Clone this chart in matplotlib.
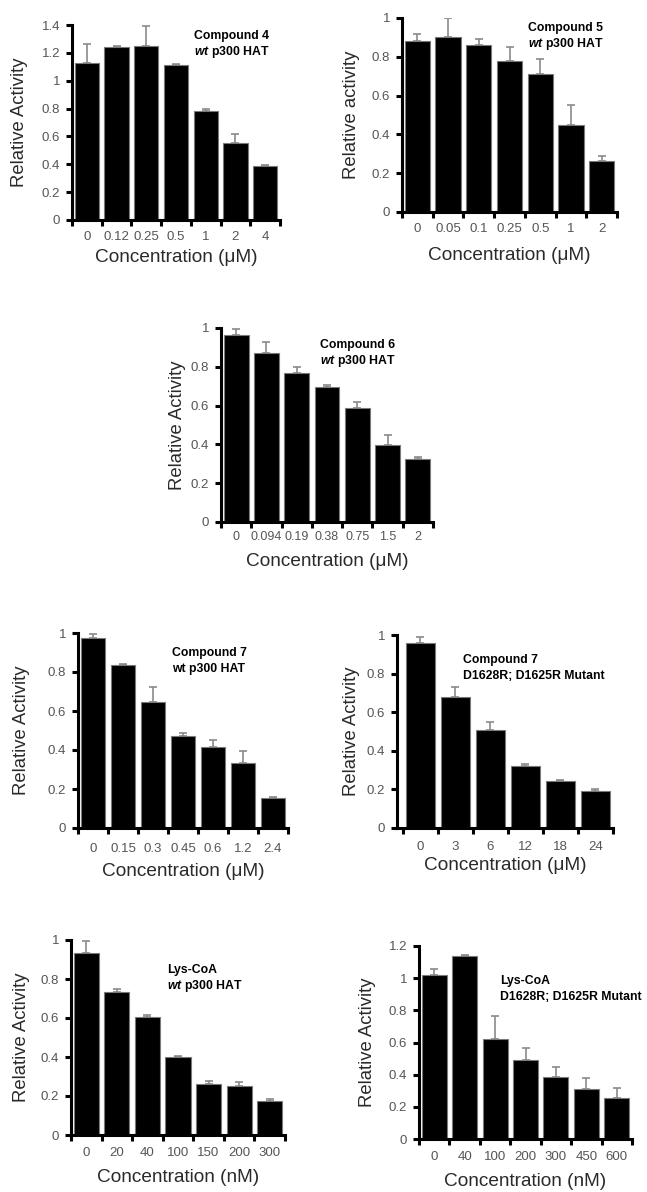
import numpy as np
import matplotlib
matplotlib.use('Agg')
import matplotlib.pyplot as plt

plt.rcParams['font.family'] = ['Liberation Sans', 'DejaVu Sans']
plt.rcParams['mathtext.fontset'] = 'custom'
plt.rcParams['mathtext.it'] = 'Liberation Sans:italic:bold'
plt.rcParams['mathtext.rm'] = 'Liberation Sans:bold'
plt.rcParams['mathtext.bf'] = 'Liberation Sans:bold'

# ---------------- data ----------------
c4_conc = ['0', '0.12', '0.25', '0.5', '1', '2', '4']
c4_act = [1.13, 1.24, 1.25, 1.11, 0.78, 0.555, 0.385]
c4_err = [0.135, 0.01, 0.14, 0.01, 0.018, 0.06, 0.008]

c5_conc = ['0', '0.05', '0.1', '0.25', '0.5', '1', '2']
c5_act = [0.88, 0.90, 0.86, 0.78, 0.71, 0.45, 0.265]
c5_err = [0.04, 0.10, 0.03, 0.07, 0.08, 0.10, 0.022]

c6_conc = ['0', '0.094', '0.19', '0.38', '0.75', '1.5', '2']
c6_act = [0.966, 0.871, 0.768, 0.696, 0.589, 0.399, 0.326]
c6_err = [0.03, 0.057, 0.031, 0.008, 0.03, 0.049, 0.009]

c7wt_conc = ['0', '0.15', '0.3', '0.45', '0.6', '1.2', '2.4']
c7wt_act = [0.974, 0.836, 0.646, 0.47, 0.414, 0.333, 0.152]
c7wt_err = [0.023, 0.004, 0.075, 0.017, 0.036, 0.064, 0.005]

c7mut_conc = ['0', '3', '6', '12', '18', '24']
c7mut_act = [0.957, 0.681, 0.509, 0.322, 0.241, 0.193]
c7mut_err = [0.035, 0.048, 0.04, 0.011, 0.009, 0.009]

lyswt_conc = ['0', '20', '40', '100', '150', '200', '300']
lyswt_act = [0.935, 0.735, 0.603, 0.398, 0.26, 0.251, 0.174]
lyswt_err = [0.06, 0.015, 0.011, 0.005, 0.015, 0.023, 0.012]

lysmut_conc = ['0', '40', '100', '200', '300', '450', '600']
lysmut_act = [1.02, 1.138, 0.623, 0.492, 0.383, 0.31, 0.252]
lysmut_err = [0.035, 0.006, 0.143, 0.073, 0.062, 0.069, 0.065]

W, H = 647, 1192
fig = plt.figure(figsize=(W / 100, H / 100), dpi=100)

TICKC = '#555555'
LABC = '#2a2a2a'


def panel(left, right, top, bottom, ext, labels, vals, errs, ymax, ylabel,
          unit, line1, line2, annx, anny, ylab_x, xlab_y, tick_off, tsize=9.5):
    ax = fig.add_axes([left / W, 1 - bottom / H, (right - left) / W, (bottom - top) / H])
    n = len(vals)
    x = np.arange(n)
    ax.bar(x, vals, width=0.82, color='black', edgecolor='#7a7a7a',
           linewidth=0.8, zorder=2)
    ax.errorbar(x, vals, yerr=[np.zeros(n), errs], fmt='none', ecolor='#8a8a8a',
                elinewidth=1.2, capsize=3.2, capthick=1.2, zorder=1)
    ax.set_xlim(-0.5 - ext, n - 0.5)
    ax.set_ylim(0, ymax)
    for s in ('top', 'right'):
        ax.spines[s].set_visible(False)
    for s in ('left', 'bottom'):
        ax.spines[s].set_linewidth(2.2)
    yt = np.round(np.arange(0, ymax + 1e-6, 0.2), 1)
    ax.set_yticks(yt)
    ax.set_yticklabels([f'{v:g}' for v in yt])
    ax.tick_params(axis='y', direction='out', length=4.5, width=2.2,
                   labelsize=9.5, labelcolor=TICKC, pad=4)
    ax.set_xticks(x)
    ax.set_xticklabels(labels)
    ax.set_xticks(np.arange(n + 1) - 0.5, minor=True)
    ax.tick_params(axis='x', which='major', length=0, labelsize=tsize,
                   labelcolor=TICKC, pad=(tick_off - 6.5) * 0.72)
    ax.tick_params(axis='x', which='minor', direction='out', length=4.5, width=2.2)
    fig.text(ylab_x / W, 1 - (top + bottom) / 2 / H, ylabel, rotation=90,
             ha='center', va='center', fontsize=13.3, color=LABC)
    fig.text((left + right) / 2 / W, 1 - xlab_y / H, f'Concentration ({unit})',
             ha='center', va='center', fontsize=13.7, color=LABC)
    fig.text(annx / W, 1 - anny / H, line1, ha='left', va='center',
             fontsize=8.8, fontweight='bold', color='black')
    fig.text(annx / W, 1 - (anny + 16) / H, line2, ha='left', va='center',
             fontsize=8.8, fontweight='bold', color='black')
    return ax


WT_IT = r'$\mathit{wt}$ p300 HAT'

panel(72, 280, 25, 220, 0.0, c4_conc, c4_act, c4_err, 1.4, 'Relative Activity',
      'μM', 'Compound 4', WT_IT, 194, 36, 20, 257, 17)
panel(402, 617, 18, 212, 0.0, c5_conc, c5_act, c5_err, 1.0, 'Relative activity',
      'μM', 'Compound 5', WT_IT, 528, 28, 352, 255, 18)
panel(221, 433, 328, 522, 0.0, c6_conc, c6_act, c6_err, 1.0, 'Relative Activity',
      'μM', 'Compound 6', WT_IT, 320, 345, 177, 562, 16, tsize=9.0)
panel(78, 288, 633, 828, 0.0, c7wt_conc, c7wt_act, c7wt_err, 1.0, 'Relative Activity',
      'μM', 'Compound 7', 'wt p300 HAT', 172, 653, 22, 872, 22)
panel(397, 613, 635, 828, 0.17, c7mut_conc, c7mut_act, c7mut_err, 1.0, 'Relative Activity',
      'μM', 'Compound 7', 'D1628R; D1625R Mutant', 463, 660, 352, 866, 20)
panel(71, 285, 940, 1135, 0.0, lyswt_conc, lyswt_act, lyswt_err, 1.0, 'Relative Activity',
      'nM', 'Lys-CoA', WT_IT, 167, 970, 22, 1178, 18)
panel(419, 632, 946, 1139, 0.0, lysmut_conc, lysmut_act, lysmut_err, 1.2, 'Relative Activity',
      'nM', 'Lys-CoA', 'D1628R; D1625R Mutant', 500, 981, 367, 1182, 19)

fig.savefig('out.png', dpi=100)
